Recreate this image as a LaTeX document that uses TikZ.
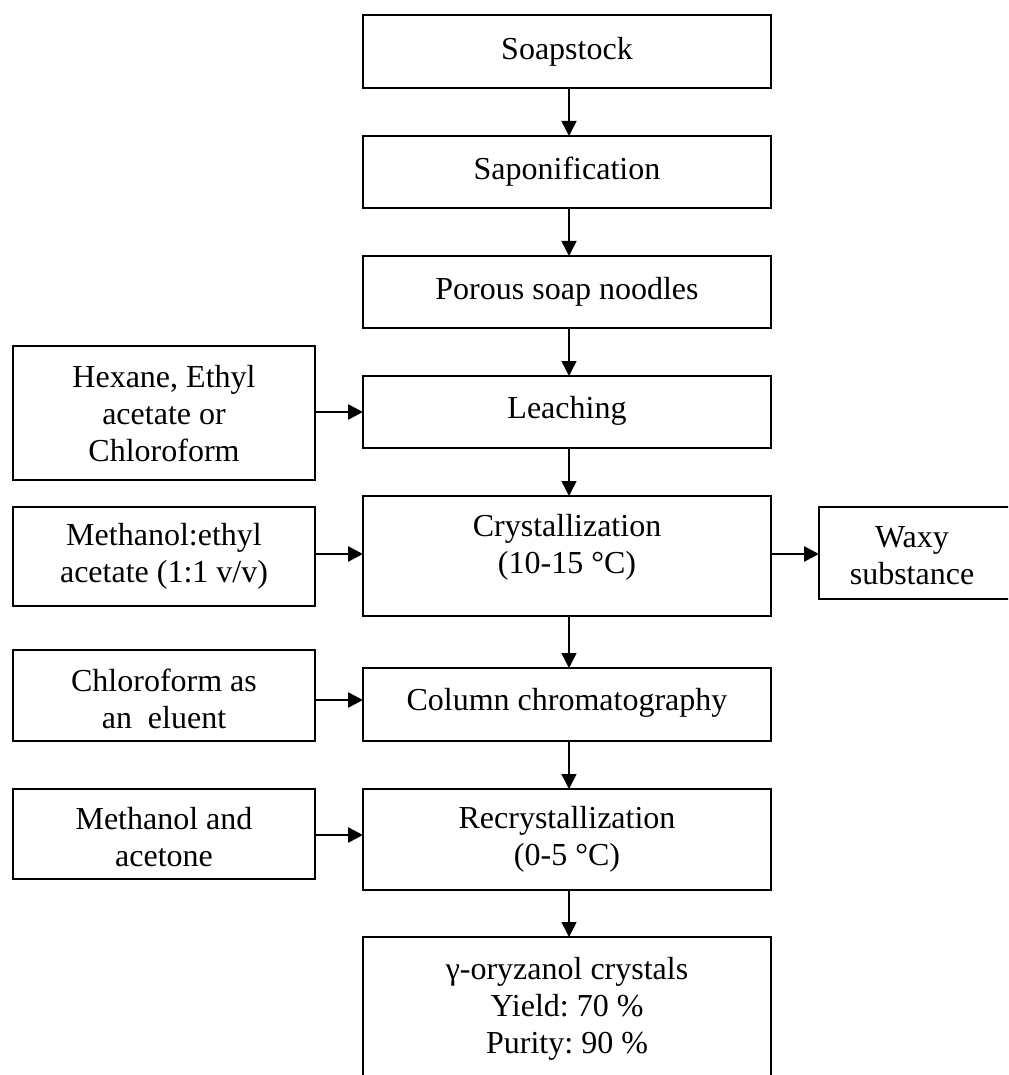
\documentclass[tikz,border=0pt]{standalone}
\usepackage{fontspec}
\setmainfont{Liberation Serif}
\frenchspacing
\usetikzlibrary{arrows.meta}
\begin{document}
\begin{tikzpicture}[x=0.5pt,y=-0.5pt,
  box/.style={draw=black, line width=0.7pt, fill=white},
  txt/.style={align=center, font=\fontsize{16pt}{18.5pt}\selectfont, inner sep=0pt},
  varrow/.style={line width=0.75pt, -{Triangle[length=7.5pt,width=7.5pt]}},
  harrow/.style={line width=1.3pt, -{Triangle[length=7.5pt,width=7.5pt]}}]
\clip (0,0) rectangle (1008,1075);
\fill[white] (0,0) rectangle (1008,1075);
% main column boxes
\draw[box] (363,15) rectangle (771,88);
\node[txt] (soap) at (567,51.5) {Soapstock};
\draw[box] (363,136) rectangle (771,208);
\node[txt] (sapo) at (567,172) {Saponification};
\draw[box] (363,256) rectangle (771,328);
\node[txt] (noodle) at (567,292) {Porous soap noodles};
\draw[box] (363,376) rectangle (771,448);
\node[txt] (leach) at (567,411) {Leaching};
\draw[box] (363,496) rectangle (771,616);
\node[txt] (cryst) at (567,547) {Crystallization\\(10-15 °C)};
\draw[box] (363,668) rectangle (771,741);
\node[txt] (column) at (567,703) {Column chromatography};
\draw[box] (363,789) rectangle (771,890);
\node[txt] (recry) at (567,839) {Recrystallization\\(0-5 °C)};
\draw[box] (363,937) rectangle (771,1100);
\node[txt] (final) at (567,1009) {γ-oryzanol crystals\\Yield: 70 \%\\Purity: 90 \%};
% left boxes
\draw[box] (13,346) rectangle (315,480);
\node[txt] (hex) at (164,414) {Hexane, Ethyl\\acetate or\\Chloroform};
\draw[box] (13,507) rectangle (315,606);
\node[txt] (meth) at (164,556) {Methanol:ethyl\\acetate (1:1 v/v)};
\draw[box] (13,650) rectangle (315,741);
\node[txt] (chl) at (164,699) {Chloroform as\\an\ \ eluent};
\draw[box] (13,789) rectangle (315,879);
\node[txt] (mac) at (164,837) {Methanol and\\acetone};
% right box
\draw[box] (819,507) rectangle (1015,599);
\node[txt] (waxy) at (912,556) {Waxy\\substance};
% coordinates for connectors
\coordinate (s1) at (569,88);   \coordinate (e1) at (569,136);
\coordinate (s2) at (569,208);  \coordinate (e2) at (569,256);
\coordinate (s3) at (569,328);  \coordinate (e3) at (569,376);
\coordinate (s4) at (569,448);  \coordinate (e4) at (569,496);
\coordinate (s5) at (569,616);  \coordinate (e5) at (569,668);
\coordinate (s6) at (569,741);  \coordinate (e6) at (569,789);
\coordinate (s7) at (569,890);  \coordinate (e7) at (569,937);
\draw[varrow] (s1) -- (e1);
\draw[varrow] (s2) -- (e2);
\draw[varrow] (s3) -- (e3);
\draw[varrow] (s4) -- (e4);
\draw[varrow] (s5) -- (e5);
\draw[varrow] (s6) -- (e6);
\draw[varrow] (s7) -- (e7);
\coordinate (h1) at (315,412); \coordinate (h1e) at (363,412);
\coordinate (h2) at (315,554); \coordinate (h2e) at (363,554);
\coordinate (h3) at (315,700); \coordinate (h3e) at (363,700);
\coordinate (h4) at (315,835); \coordinate (h4e) at (363,835);
\coordinate (w1) at (771,554); \coordinate (w1e) at (819,554);
\draw[harrow] (h1) -- (h1e);
\draw[harrow] (h2) -- (h2e);
\draw[harrow] (h3) -- (h3e);
\draw[harrow] (h4) -- (h4e);
\draw[harrow] (w1) -- (w1e);
\end{tikzpicture}
\end{document}
